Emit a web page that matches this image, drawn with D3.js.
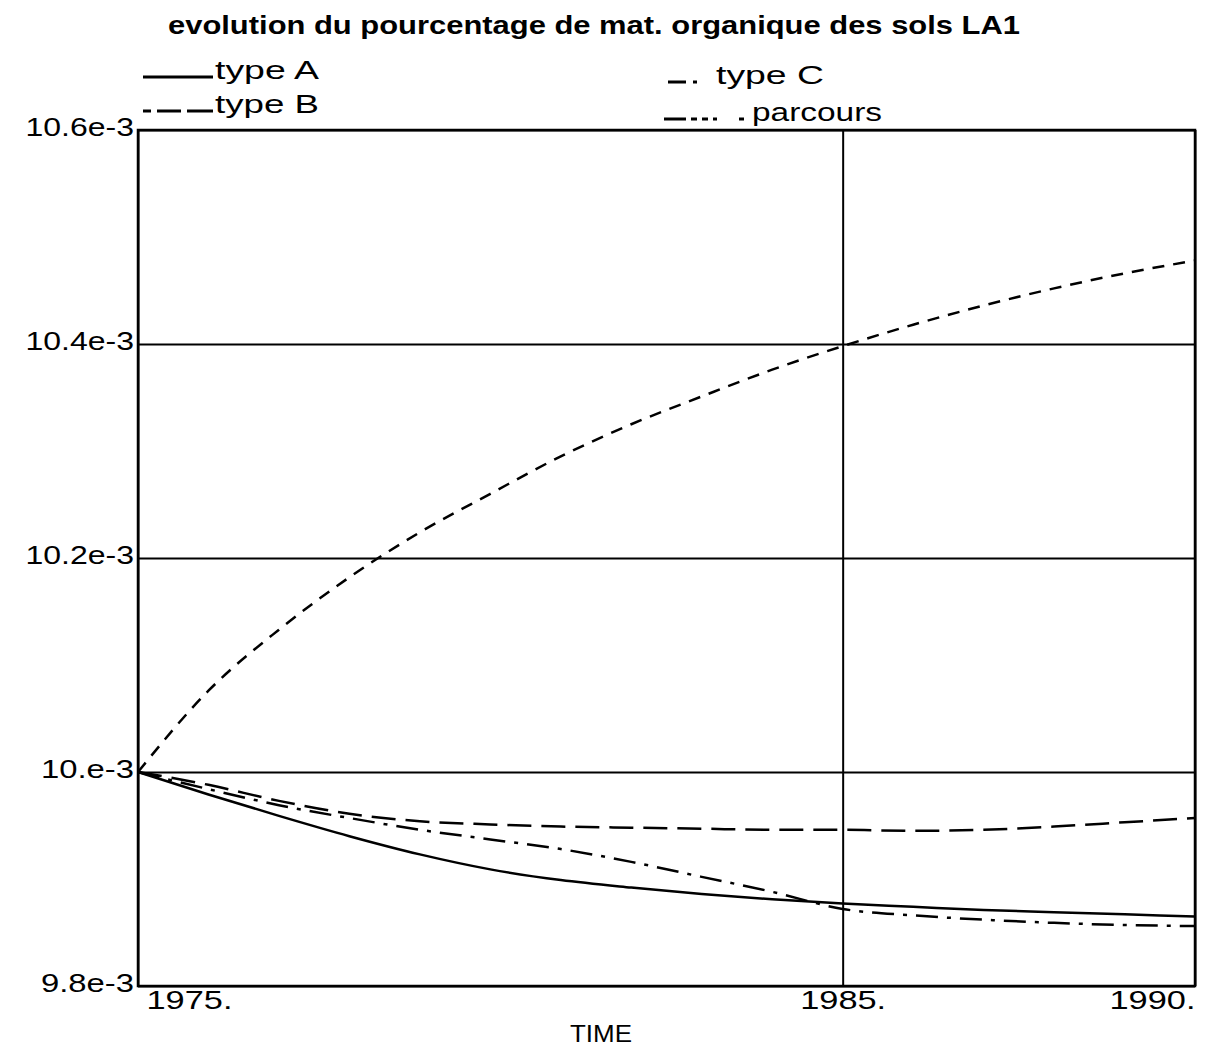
<!DOCTYPE html>
<html>
<head>
<meta charset="utf-8">
<script src="https://cdn.jsdelivr.net/npm/d3@7"></script>
<style>
  body { margin: 0; background: #fff; }
  text { font-family: "Liberation Sans", Arial, sans-serif; fill: #000; }
</style>
</head>
<body>
<svg width="1209" height="1057"></svg>
<script>
// ************** Data (values in 1e-3) *****************

const years = [1975, 1976, 1977, 1978, 1979, 1980, 1981, 1982, 1983, 1984, 1985, 1986, 1987, 1988, 1989, 1990];

const typeA    = [10.0, 9.979, 9.959, 9.940, 9.923, 9.909, 9.899, 9.892, 9.886, 9.881, 9.877, 9.874, 9.871, 9.869, 9.867, 9.865];
const typeB    = [10.0, 9.988, 9.973, 9.961, 9.954, 9.951, 9.949, 9.948, 9.947, 9.946, 9.946, 9.945, 9.946, 9.949, 9.953, 9.957];
const typeC    = [10.0, 9.984, 9.969, 9.957, 9.946, 9.937, 9.928, 9.916, 9.902, 9.888, 9.872, 9.866, 9.862, 9.859, 9.857, 9.856];
const parcours = [10.0, 10.076, 10.133, 10.182, 10.224, 10.260, 10.295, 10.325, 10.351, 10.376, 10.398, 10.418, 10.436, 10.452, 10.466, 10.478];

const yTicks = [9.8, 10.0, 10.2, 10.4, 10.6];
const yTickLabels = ["9.8e-3", "10.e-3", "10.2e-3", "10.4e-3", "10.6e-3"];
const xTicks = [1975, 1985, 1990];
const xTickLabels = ["1975.", "1985.", "1990."];
const seriesNames = ["type A", "type B", "type C", "parcours"];


// *************** Graph Setup *****************

let svg = d3.select("svg");

const plotLeft = 138, plotRight = 1195, plotTop = 130, plotBottom = 986;

let xScale = d3.scaleLinear()
    .domain([1975, 1990])
    .range([plotLeft, plotRight]);

let yScale = d3.scaleLinear()
    .domain([9.8, 10.6])
    .range([plotBottom, plotTop]);

// dash styles, same order as seriesNames
const dashes = ["none", "24,10", "22,9,4,9", "12,9"];
const legendDashes = ["none", "8,6,24,6,26", "18,7,4,40", "22,5,6,5,6,5,4"];
const allSeries = [typeA, typeB, typeC, parcours];

// horizontal grid + y labels
let yAxis = svg.append("g")
    .attr("transform", "translate(" + plotLeft + ",0)")
    .call(d3.axisLeft(yScale)
        .tickValues(yTicks)
        .tickSize(-(plotRight - plotLeft))
        .tickPadding(4)
        .tickFormat(function(d, i) { return yTickLabels[i]; }));
yAxis.select(".domain").remove();
yAxis.selectAll("line").attr("stroke", "#000").attr("stroke-width", 2);
yAxis.selectAll("text")
    .style("font-size", "26px")
    .attr("dy", "0.2em")
    .attr("lengthAdjust", "spacingAndGlyphs")
    .attr("textLength", function(d, i) { return yTickLabels[i].length * 15.5; });

// vertical grid + x labels
let xAxis = svg.append("g")
    .attr("transform", "translate(0," + plotBottom + ")")
    .call(d3.axisBottom(xScale)
        .tickValues(xTicks)
        .tickSize(-(plotBottom - plotTop))
        .tickPadding(5)
        .tickFormat(function(d, i) { return xTickLabels[i]; }));
xAxis.select(".domain").remove();
xAxis.selectAll("line").attr("stroke", "#000").attr("stroke-width", 2);
xAxis.selectAll("text")
    .style("font-size", "26px")
    .attr("lengthAdjust", "spacingAndGlyphs")
    .attr("textLength", 86)
    .attr("text-anchor", function(d, i) { return i === 0 ? "start" : (i === xTicks.length - 1 ? "end" : "middle"); })
    .attr("dx", function(d, i) { return i === 0 ? 8 : 0; });

// frame
svg.append("rect")
    .attr("x", plotLeft).attr("y", plotTop)
    .attr("width", plotRight - plotLeft).attr("height", plotBottom - plotTop)
    .attr("fill", "none").attr("stroke", "#000").attr("stroke-width", 2.5);

// curves
let line = d3.line()
    .x(function(d, i) { return xScale(years[i]); })
    .y(function(d) { return yScale(d); })
    .curve(d3.curveMonotoneX);

svg.selectAll(".curve")
    .data(allSeries)
    .enter().append("path")
    .attr("class", "curve")
    .attr("d", line)
    .attr("fill", "none")
    .attr("stroke", "#000")
    .attr("stroke-width", 2.5)
    .attr("stroke-dasharray", function(d, i) { return dashes[i]; });

// title
svg.append("text")
    .attr("x", 168).attr("y", 34)
    .attr("textLength", 852)
    .attr("lengthAdjust", "spacingAndGlyphs")
    .style("font-size", "25px")
    .style("font-weight", "bold")
    .text("evolution du pourcentage de mat. organique des sols LA1");

// legend (two columns)
const legX = [143, 143, 668, 664];
const legY = [79, 113, 84, 121];
const legLen = [70, 70, 34, 86];
const legTextW = [104, 104, 108, 130];

seriesNames.forEach(function(name, i) {
    svg.append("line")
        .attr("x1", legX[i]).attr("x2", legX[i] + legLen[i])
        .attr("y1", legY[i] - 2).attr("y2", legY[i] - 2)
        .attr("stroke", "#000").attr("stroke-width", 3)
        .attr("stroke-dasharray", legendDashes[i]);
    svg.append("text")
        .attr("x", legX[i] + legLen[i] + (i === 2 ? 14 : 2))
        .attr("y", legY[i])
        .attr("textLength", legTextW[i])
        .attr("lengthAdjust", "spacingAndGlyphs")
        .style("font-size", "26px")
        .text(name);
});

// x axis title
svg.append("text")
    .attr("x", 601).attr("y", 1042)
    .attr("text-anchor", "middle")
    .attr("textLength", 62)
    .attr("lengthAdjust", "spacingAndGlyphs")
    .style("font-size", "24px")
    .text("TIME");
</script>
</body>
</html>
